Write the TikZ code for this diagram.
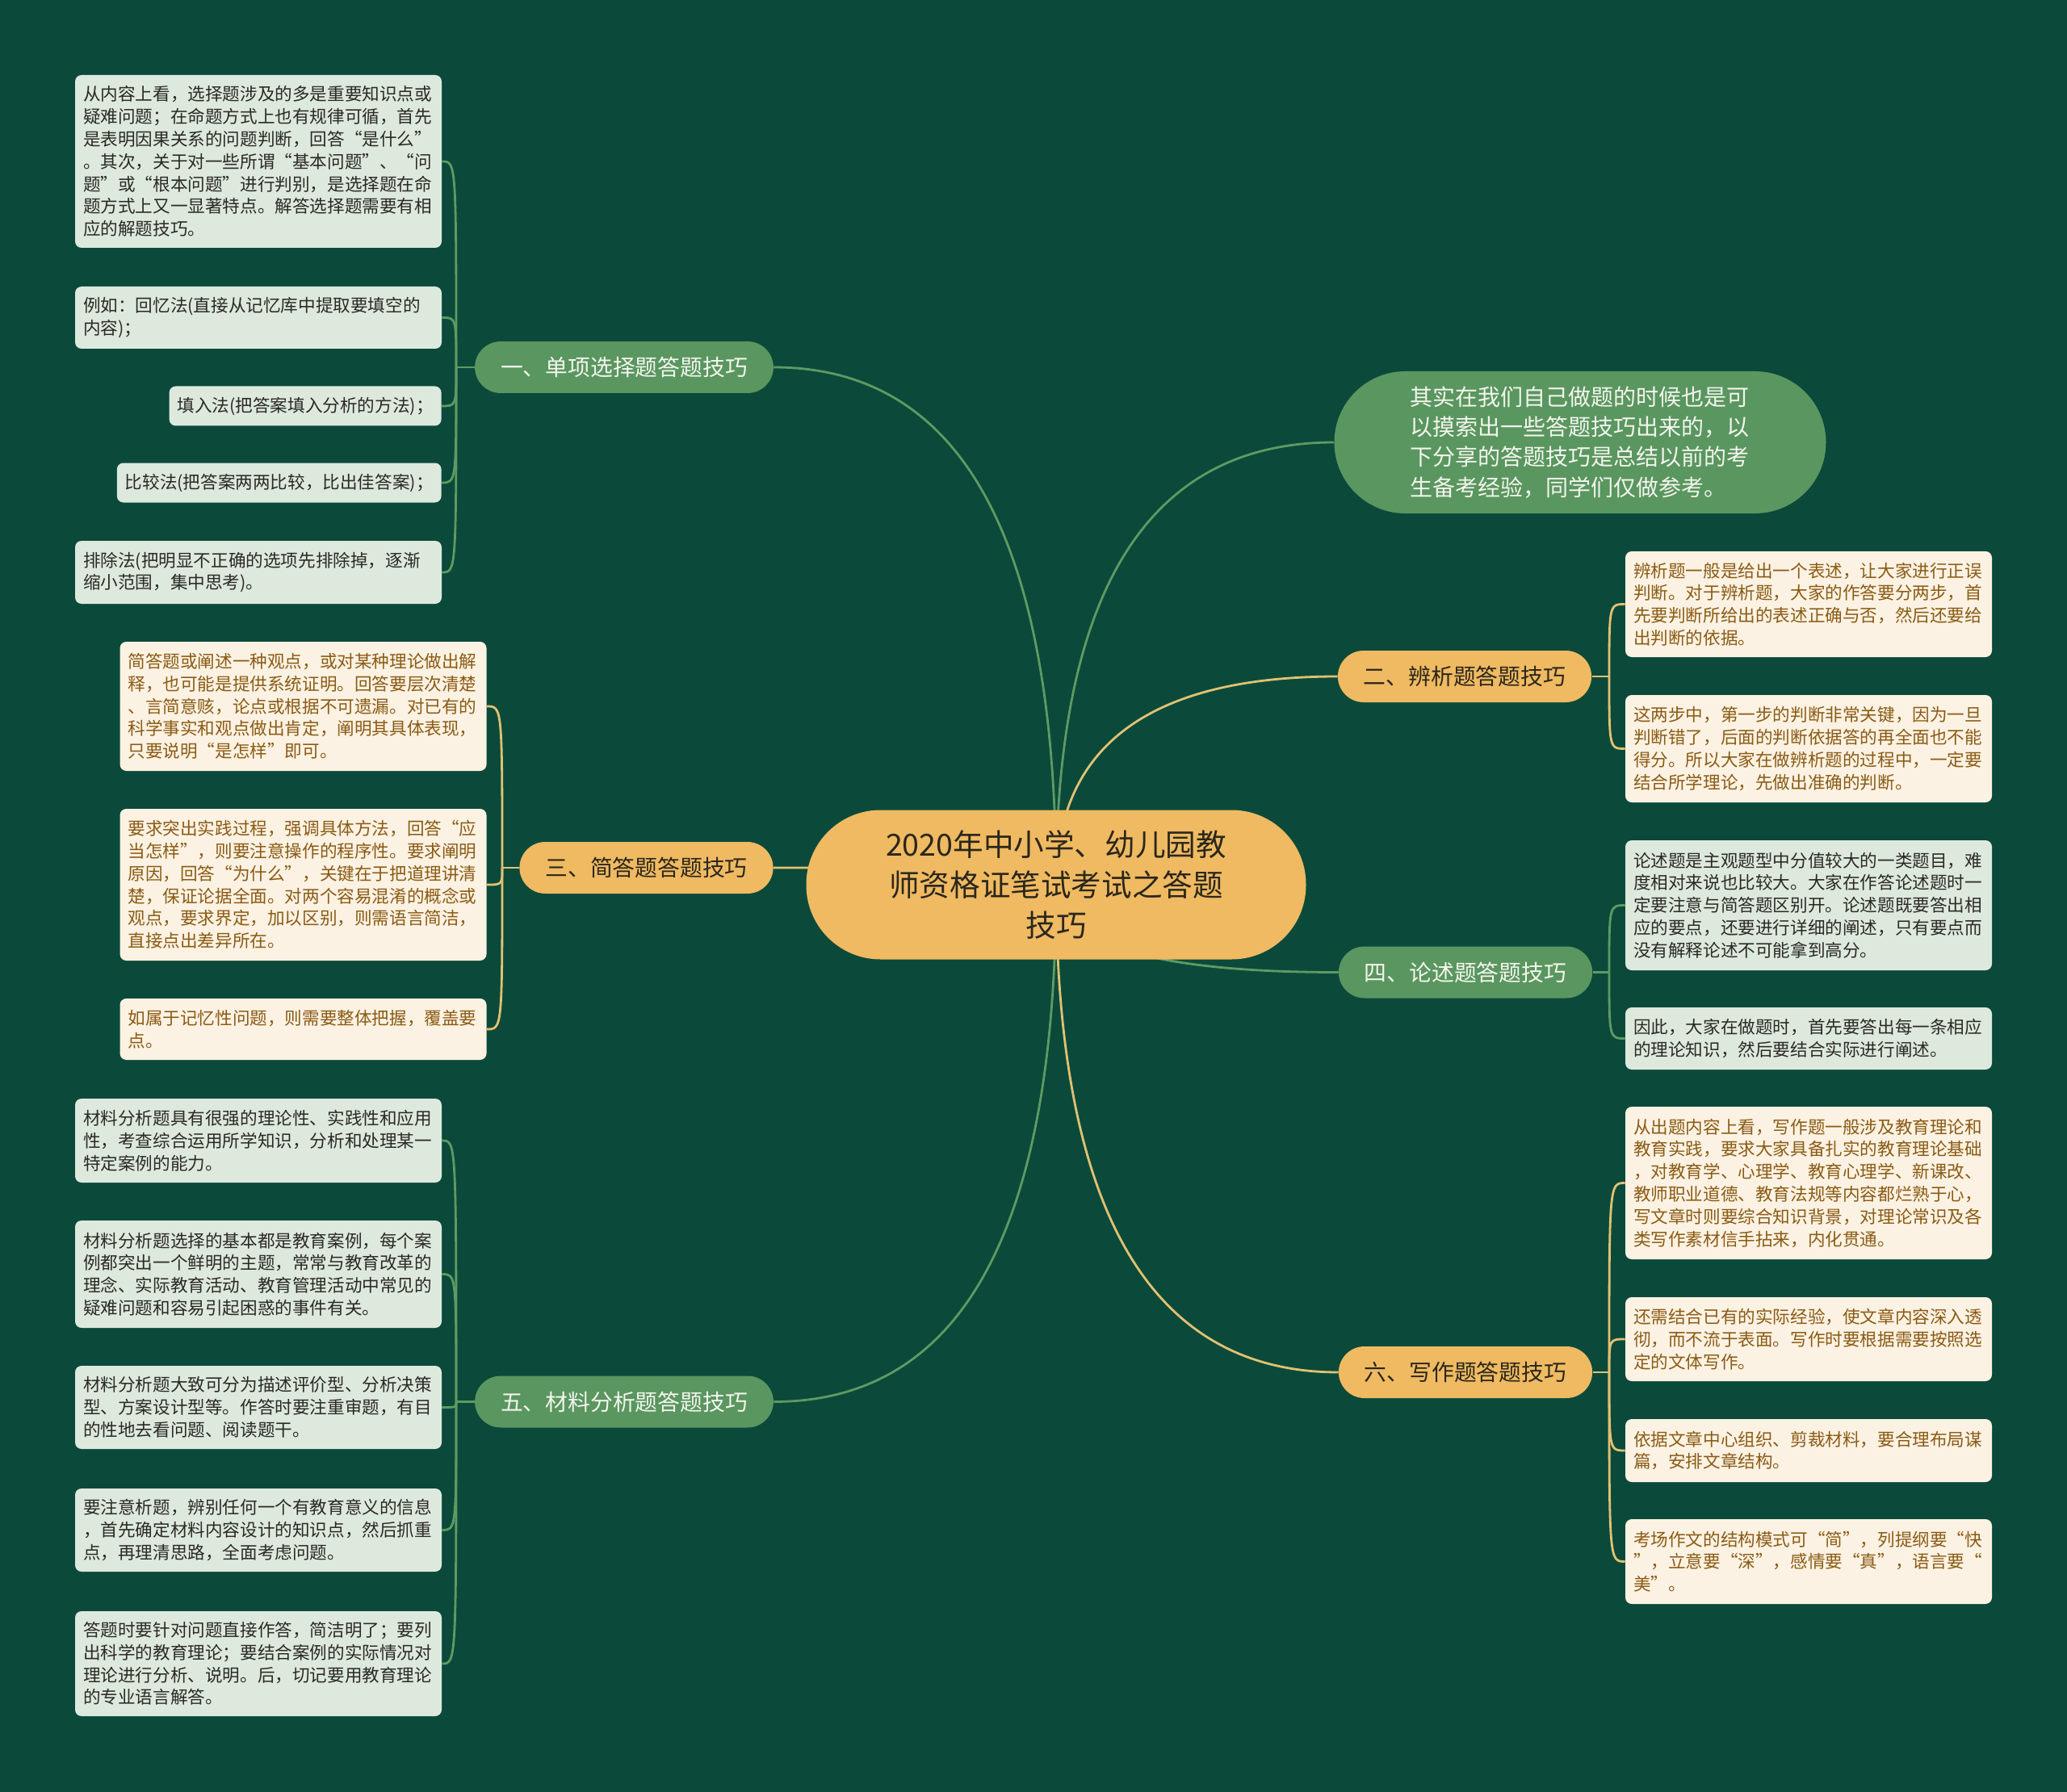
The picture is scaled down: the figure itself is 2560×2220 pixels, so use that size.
\documentclass[tikz,border=0pt]{standalone}
\usepackage{fontspec}
\setmainfont{Noto Sans CJK SC}
\usetikzlibrary{calc}
\definecolor{bgc}{HTML}{0B4A3A}
\definecolor{brgreen}{HTML}{5A965F}
\definecolor{brorange}{HTML}{EFBA62}
\definecolor{lngreen}{HTML}{5E9B63}
\definecolor{lnorange}{HTML}{E2C173}
\definecolor{leafgreen}{HTML}{DEE9DE}
\definecolor{leafcream}{HTML}{FCF2E3}
\definecolor{txtbrown}{HTML}{8A5B14}
\definecolor{txtdark}{HTML}{2A2A24}
\definecolor{txtorange}{HTML}{2B271B}
\definecolor{txtlight}{HTML}{F3F5EE}
\pgfdeclarelayer{bgl}
\pgfsetlayers{bgl,main}
\begin{document}
\begin{tikzpicture}[x=0.5pt,y=-0.5pt,
  leafbase/.style={rounded corners=4pt, inner xsep=5pt, inner ysep=0pt, align=left,
    font=\fontsize{10.8pt}{13.9pt}\selectfont},
  leafg/.style={leafbase, fill=leafgreen, text=txtdark},
  leafo/.style={leafbase, fill=leafcream, text=txtbrown},
  wide/.style={text width=217pt},
  brbase/.style={rounded corners=16pt, minimum height=32pt, inner xsep=16pt, inner ysep=0pt,
    font=\fontsize{13.9pt}{16pt}\selectfont},
  brg/.style={brbase, fill=brgreen, text=txtlight},
  bro/.style={brbase, fill=brorange, text=txtorange},
  cg/.style={draw=lngreen, line width=1.4pt},
  co/.style={draw=lnorange, line width=1.4pt},
  qc/.style={to path={.. controls ($(\tikztostart)!0.6667!(\tikztostart|-\tikztotarget)$) and ($(\tikztotarget)!0.6667!(\tikztostart|-\tikztotarget)$) .. (\tikztotarget)}},
  hook/.style={to path={.. controls (\tikztostart|-\tikztotarget) .. (\tikztotarget)}}
]
\useasboundingbox (0,0) rectangle (2560,2220);

% central node
\node[fill=brorange, text=txtorange, rounded corners=46pt, minimum width=309.5pt, minimum height=92.5pt,
  align=center, font=\fontsize{18.8pt}{25pt}\selectfont] (c) at (1308,1096)
  {2020年中小学、幼儿园教\\师资格证笔试考试之答题\\技巧};

% intro node
\node[fill=brgreen, text=txtlight, rounded corners=44pt, minimum width=304.5pt, minimum height=88pt,
  text width=211pt, align=left, font=\fontsize{14pt}{18.6pt}\selectfont] (intro) at (1957,548)
  {其实在我们自己做题的时候也是可\\以摸索出一些答题技巧出来的，以\\下分享的答题技巧是总结以前的考\\生备考经验，同学们仅做参考。};

% branch nodes
\node[brg] (b1) at (773,455) {一、单项选择题答题技巧};
\node[bro] (b3) at (800.5,1075) {三、简答题答题技巧};
\node[brg] (b5) at (773,1736.5) {五、材料分析题答题技巧};
\node[bro] (b2) at (1814,838) {二、辨析题答题技巧};
\node[brg] (b4) at (1815,1204.5) {四、论述题答题技巧};
\node[bro] (b6) at (1815,1700) {六、写作题答题技巧};

% leaves of branch 1
\node[leafg, wide, minimum height=107pt] (l11) at (320,200)
  {从内容上看，选择题涉及的多是重要知识点或\\疑难问题；在命题方式上也有规律可循，首先\\是表明因果关系的问题判断，回答“是什么”\\。其次，关于对一些所谓“基本问题”、“问\\题”或“根本问题”进行判别，是选择题在命\\题方式上又一显著特点。解答选择题需要有相\\应的解题技巧。};
\node[leafg, wide, minimum height=38.5pt] (l12) at (320,393.5)
  {例如：回忆法(直接从记忆库中提取要填空的\\内容)；};
\node[leafg, minimum height=24.5pt, anchor=east] (l13) at (547,503)
  {填入法(把答案填入分析的方法)；};
\node[leafg, minimum height=24.5pt, anchor=east] (l14) at (547,598)
  {比较法(把答案两两比较，比出佳答案)；};
\node[leafg, wide, minimum height=39pt] (l15) at (320,709)
  {排除法(把明显不正确的选项先排除掉，逐渐\\缩小范围，集中思考)。};

% leaves of branch 3
\node[leafo, wide, minimum height=80pt] (l31) at (375.5,875)
  {简答题或阐述一种观点，或对某种理论做出解\\释，也可能是提供系统证明。回答要层次清楚\\、言简意赅，论点或根据不可遗漏。对已有的\\科学事实和观点做出肯定，阐明其具体表现，\\只要说明“是怎样”即可。};
\node[leafo, wide, minimum height=94pt] (l32) at (375.5,1096)
  {要求突出实践过程，强调具体方法，回答“应\\当怎样”，则要注意操作的程序性。要求阐明\\原因，回答“为什么”，关键在于把道理讲清\\楚，保证论据全面。对两个容易混淆的概念或\\观点，要求界定，加以区别，则需语言简洁，\\直接点出差异所在。};
\node[leafo, wide, minimum height=38pt] (l33) at (375.5,1275)
  {如属于记忆性问题，则需要整体把握，覆盖要\\点。};

% leaves of branch 5
\node[leafg, wide, minimum height=52pt] (l51) at (320,1413)
  {材料分析题具有很强的理论性、实践性和应用\\性，考查综合运用所学知识，分析和处理某一\\特定案例的能力。};
\node[leafg, wide, minimum height=66.5pt] (l52) at (320,1578.5)
  {材料分析题选择的基本都是教育案例，每个案\\例都突出一个鲜明的主题，常常与教育改革的\\理念、实际教育活动、教育管理活动中常见的\\疑难问题和容易引起困惑的事件有关。};
\node[leafg, wide, minimum height=51.5pt] (l53) at (320,1743.5)
  {材料分析题大致可分为描述评价型、分析决策\\型、方案设计型等。作答时要注重审题，有目\\的性地去看问题、阅读题干。};
\node[leafg, wide, minimum height=51.5pt] (l54) at (320,1895.5)
  {要注意析题，辨别任何一个有教育意义的信息\\，首先确定材料内容设计的知识点，然后抓重\\点，再理清思路，全面考虑问题。};
\node[leafg, wide, minimum height=65pt] (l55) at (320,2061)
  {答题时要针对问题直接作答，简洁明了；要列\\出科学的教育理论；要结合案例的实际情况对\\理论进行分析、说明。后，切记要用教育理论\\的专业语言解答。};

% leaves of branch 2
\node[leafo, wide, minimum height=65.5pt] (l21) at (2240,748.5)
  {辨析题一般是给出一个表述，让大家进行正误\\判断。对于辨析题，大家的作答要分两步，首\\先要判断所给出的表述正确与否，然后还要给\\出判断的依据。};
\node[leafo, wide, minimum height=66.5pt] (l22) at (2240,927.5)
  {这两步中，第一步的判断非常关键，因为一旦\\判断错了，后面的判断依据答的再全面也不能\\得分。所以大家在做辨析题的过程中，一定要\\结合所学理论，先做出准确的判断。};

% leaves of branch 4
\node[leafg, wide, minimum height=80.5pt] (l41) at (2240,1121.5)
  {论述题是主观题型中分值较大的一类题目，难\\度相对来说也比较大。大家在作答论述题时一\\定要注意与简答题区别开。论述题既要答出相\\应的要点，还要进行详细的阐述，只有要点而\\没有解释论述不可能拿到高分。};
\node[leafg, wide, minimum height=38.5pt] (l42) at (2240,1286.5)
  {因此，大家在做题时，首先要答出每一条相应\\的理论知识，然后要结合实际进行阐述。};

% leaves of branch 6
\node[leafo, wide, minimum height=94.5pt] (l61) at (2240,1465.5)
  {从出题内容上看，写作题一般涉及教育理论和\\教育实践，要求大家具备扎实的教育理论基础\\，对教育学、心理学、教育心理学、新课改、\\教师职业道德、教育法规等内容都烂熟于心，\\写文章时则要综合知识背景，对理论常识及各\\类写作素材信手拈来，内化贯通。};
\node[leafo, wide, minimum height=52pt] (l62) at (2240,1659)
  {还需结合已有的实际经验，使文章内容深入透\\彻，而不流于表面。写作时要根据需要按照选\\定的文体写作。};
\node[leafo, wide, minimum height=39pt] (l63) at (2240,1797)
  {依据文章中心组织、剪裁材料，要合理布局谋\\篇，安排文章结构。};
\node[leafo, wide, minimum height=52.5pt] (l64) at (2240,1934.5)
  {考场作文的结构模式可“简”，列提纲要“快\\”，立意要“深”，感情要“真”，语言要“\\美”。};

% spine points
\coordinate (s1) at (565,455);
\coordinate (s3) at (622,1075);
\coordinate (s5) at (565,1736.5);
\coordinate (s2) at (1993,838);
\coordinate (s4) at (1993,1204.5);
\coordinate (s6) at (1993,1700);

\begin{pgfonlayer}{bgl}
\fill[bgc] (0,0) rectangle (2560,2220);
% center to branches
\draw[cg] (c.center) to[qc] (b1.east);
\draw[co] (c.center) to[qc] (b3.east);
\draw[cg] (c.center) to[qc] (b5.east);
\draw[cg] (c.center) to[qc] (intro.west);
\draw[co] (c.center) to[qc] (b2.west);
\draw[cg] (c.center) to[qc] (b4.west);
\draw[co] (c.center) to[qc] (b6.west);
% branch 1
\draw[cg] (b1.west) -- (s1);
\foreach \l in {l11,l12,l13,l14,l15} \draw[cg] (s1) to[hook] (\l.east);
% branch 3
\draw[co] (b3.west) -- (s3);
\foreach \l in {l31,l32,l33} \draw[co] (s3) to[hook] (\l.east);
% branch 5
\draw[cg] (b5.west) -- (s5);
\foreach \l in {l51,l52,l53,l54,l55} \draw[cg] (s5) to[hook] (\l.east);
% branch 2
\draw[co] (b2.east) -- (s2);
\foreach \l in {l21,l22} \draw[co] (s2) to[hook] (\l.west);
% branch 4
\draw[cg] (b4.east) -- (s4);
\foreach \l in {l41,l42} \draw[cg] (s4) to[hook] (\l.west);
% branch 6
\draw[co] (b6.east) -- (s6);
\foreach \l in {l61,l62,l63,l64} \draw[co] (s6) to[hook] (\l.west);
\end{pgfonlayer}
\end{tikzpicture}
\end{document}
